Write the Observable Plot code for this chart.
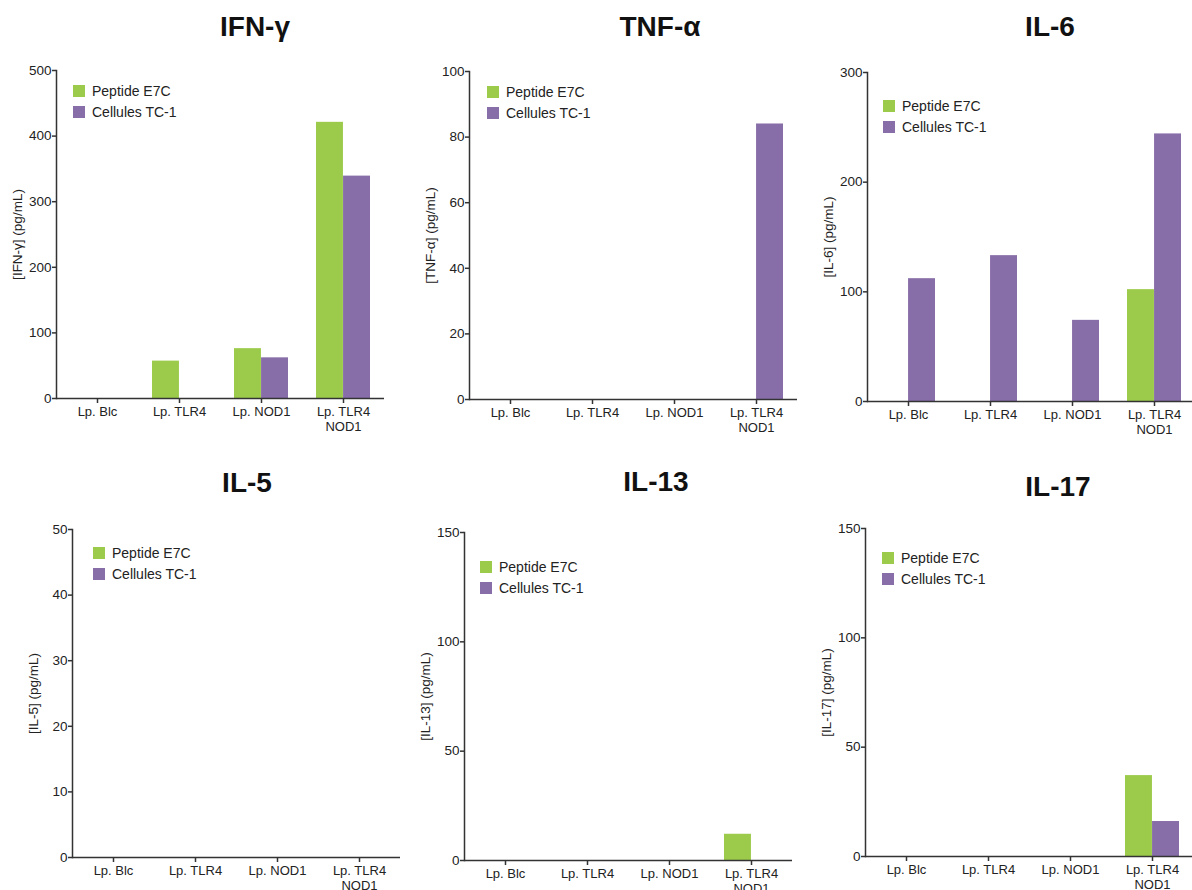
<!DOCTYPE html>
<html>
<head>
<meta charset="utf-8">
<script src="https://cdn.jsdelivr.net/npm/d3@7"></script>
<script src="https://cdn.jsdelivr.net/npm/@observablehq/plot@0.6"></script>
<style>
  html, body { margin: 0; padding: 0; background: #fff; }
  body { width: 1192px; height: 890px; overflow: hidden; position: relative;
         font-family: "Liberation Sans", Arial, sans-serif; color: #222; }
  .panel { position: absolute; }
  .title { position: absolute; font-weight: bold; font-size: 28px; line-height: 28px;
           transform: translateX(-50%); white-space: nowrap; color: #111; }
  .legend { position: absolute; font-size: 14px; color: #222; }
  .legend .row { display: flex; align-items: center; height: 21px; white-space: nowrap; }
  .legend .sw { width: 12px; height: 12px; margin-right: 7px; }
</style>
</head>
<body>
<div id="root"></div>
<script>
// ---------- data ----------
const categories = ["Lp. Blc", "Lp. TLR4", "Lp. NOD1", "Lp. TLR4\nNOD1"];
const seriesNames = ["Peptide E7C", "Cellules TC-1"];
const seriesColors = ["#9ccb4b", "#886ea8"];
const cytokines = ["IFN-γ", "TNF-α", "IL-6", "IL-5", "IL-13", "IL-17"];
const yLabels = ["[IFN-γ] (pg/mL)", "[TNF-α] (pg/mL)", "[IL-6] (pg/mL)", "[IL-5] (pg/mL)", "[IL-13] (pg/mL)", "[IL-17] (pg/mL)"];
const yMax = [500, 100, 300, 50, 150, 150];
const yTickStep = [100, 20, 100, 10, 50, 50];
const peptideE7C = [
  [0, 57, 76, 421],
  [0, 0, 0, 0],
  [0, 0, 0, 102],
  [0, 0, 0, 0],
  [0, 0, 0, 12],
  [0, 0, 0, 37]
];
const cellulesTC1 = [
  [0, 0, 62, 339],
  [0, 0, 0, 84],
  [112, 133, 74, 244],
  [0, 0, 0, 0],
  [0, 0, 0, 0],
  [0, 0, 0, 16]
];

// ---------- layout (frame positions on the page) ----------
const frameLeft = [56, 469, 867, 72, 464, 865];
const frameTop = [70, 71, 72, 529, 532, 528];
const frameBottom = [398, 399, 401, 857, 860, 856];
const frameWidth = 328;
const titleX = [255, 660, 1050, 247, 656, 1058];
const titleBaseline = [37, 37, 37, 493, 492, 497];
const legendLeft = [73, 487, 883, 93, 480, 882];
const legendRow1 = [91, 92, 106, 553, 567, 558];

const mL = 60, mR = 10, mT = 10, mB = 45;
const padInner = 0.34;
const bandW = (frameWidth / categories.length) * (1 - padInner);

const root = document.getElementById("root");

cytokines.forEach((name, i) => {
  const valuesBySeries = [peptideE7C[i], cellulesTC1[i]];
  const fh = frameBottom[i] - frameTop[i];
  const ticks = d3.range(0, yMax[i] + yTickStep[i] / 2, yTickStep[i]);

  const barMarks = seriesNames.map((s, k) => {
    const rows = categories.map((c, j) => ({cat: c, series: s, v: valuesBySeries[k][j]})).filter(d => d.v > 0);
    return Plot.barY(rows, {
      x: "cat", y: "v", fill: seriesColors[k],
      insetLeft: k === 0 ? 0 : bandW / 2,
      insetRight: k === 0 ? bandW / 2 : 0
    });
  });

  const chart = Plot.plot({
    width: mL + frameWidth + mR,
    height: mT + fh + mB,
    marginLeft: mL, marginRight: mR, marginTop: mT, marginBottom: mB,
    style: {fontFamily: "Liberation Sans, Arial, sans-serif", color: "#222", background: "transparent", overflow: "visible"},
    x: {domain: categories, paddingInner: padInner, paddingOuter: padInner / 2, label: null},
    y: {domain: [0, yMax[i]], label: null},
    marks: [
      ...barMarks,
      Plot.frame({anchor: "left", stroke: "#333", strokeWidth: 1.5}),
      Plot.ruleY([0], {stroke: "#333", strokeWidth: 1.5}),
      Plot.axisY({ticks, tickSize: 4, tickPadding: 1, fontSize: 13.5, stroke: "#333", strokeWidth: 1.5,
                  label: yLabels[i], labelAnchor: "center", labelArrow: "none", labelOffset: 44}),
      Plot.axisX({tickSize: 5, tickPadding: 3, fontSize: 13, stroke: "#333", strokeWidth: 1.5, lineHeight: 1.08, label: null})
    ]
  });
  chart.classList.add("panel");
  chart.style.left = (frameLeft[i] - mL) + "px";
  chart.style.top = (frameTop[i] - mT) + "px";
  root.appendChild(chart);

  const t = document.createElement("div");
  t.className = "title";
  t.textContent = name;
  t.style.left = titleX[i] + "px";
  t.style.top = (titleBaseline[i] - 23.7) + "px";
  root.appendChild(t);

  const lg = document.createElement("div");
  lg.className = "legend";
  lg.style.left = legendLeft[i] + "px";
  lg.style.top = (legendRow1[i] - 10.5) + "px";
  seriesNames.forEach((s, k) => {
    const row = document.createElement("div");
    row.className = "row";
    const sw = document.createElement("div");
    sw.className = "sw";
    sw.style.background = seriesColors[k];
    const tx = document.createElement("span");
    tx.textContent = s;
    row.appendChild(sw);
    row.appendChild(tx);
    lg.appendChild(row);
  });
  root.appendChild(lg);
});
</script>
</body>
</html>
